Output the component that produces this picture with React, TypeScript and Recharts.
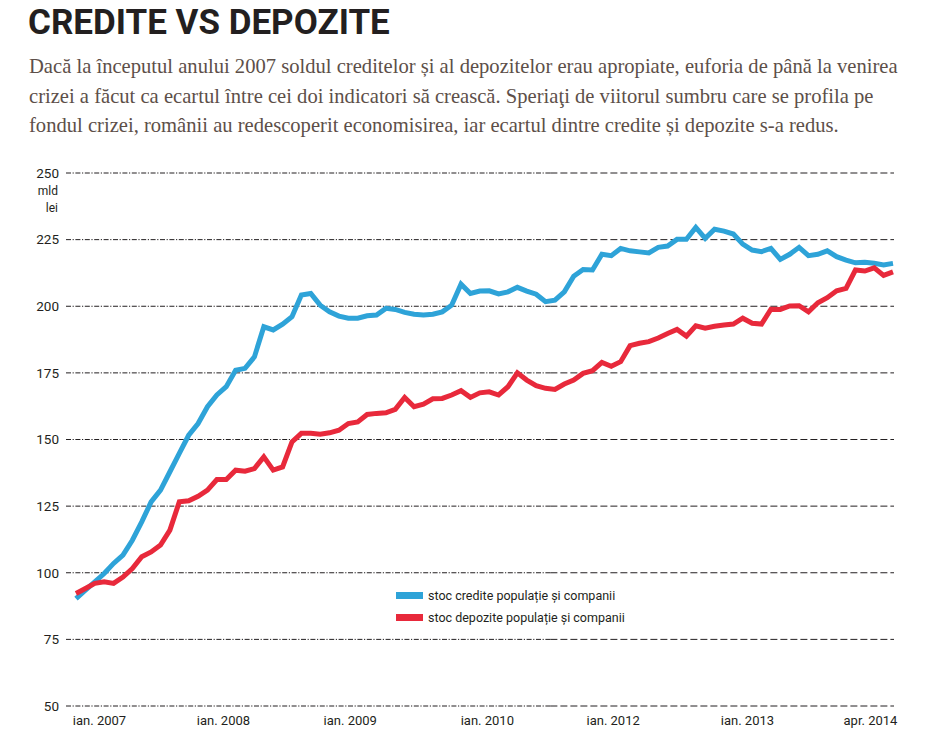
import React from 'react';
import { LineChart, Line, XAxis, YAxis, CartesianGrid, Legend } from 'recharts';

const credite: number[] = [
  90.3, 93.5, 96.6, 99.7, 103.5, 106.6, 112.2, 119.1, 126.6, 131.0,
  137.9, 144.8, 151.6, 156.0, 162.3, 166.7, 169.8, 176.0, 176.7, 181.0,
  192.3, 191.1, 193.3, 196.1, 204.2, 204.8, 200.4, 197.9, 196.3, 195.5,
  195.5, 196.4, 196.7, 199.2, 198.8, 197.7, 197.0, 196.7, 197.0, 197.9,
  200.4, 208.3, 204.8, 205.7, 205.8, 204.6, 205.4, 207.1, 205.7, 204.5,
  201.7, 202.3, 205.4, 211.3, 213.8, 213.6, 219.5, 219.0, 221.7, 220.8,
  220.4, 220.0, 222.1, 222.6, 225.1, 225.1, 229.6, 225.5, 228.9, 228.2,
  227.1, 223.3, 221.1, 220.5, 221.7, 217.6, 219.5, 222.1, 219.0, 219.5,
  220.8, 218.6, 217.3, 216.3, 216.5, 216.1, 215.5, 216.1,
];

const depozite: number[] = [
  92.2, 94.1, 96.0, 96.6, 96.0, 98.4, 101.6, 106.0, 107.8, 110.4,
  116.0, 126.6, 127.0, 128.7, 131.0, 135.0, 135.0, 138.5, 138.1, 139.1,
  143.5, 138.5, 139.7, 149.1, 152.3, 152.3, 152.0, 152.5, 153.5, 156.0,
  156.6, 159.4, 159.8, 160.0, 161.3, 165.8, 162.3, 163.3, 165.3, 165.4,
  166.7, 168.3, 165.8, 167.5, 167.9, 166.7, 169.8, 175.0, 172.3, 170.2,
  169.2, 168.8, 170.8, 172.3, 174.8, 175.8, 178.9, 177.5, 179.2, 185.2,
  186.1, 186.7, 188.1, 189.8, 191.3, 188.8, 192.7, 191.8, 192.5, 193.0,
  193.3, 195.5, 193.6, 193.3, 198.9, 198.8, 200.1, 200.2, 197.9, 201.3,
  203.2, 205.8, 206.7, 213.6, 213.2, 214.4, 211.6, 212.9,
];

const xTickIdx: number[] = [2.5, 15.7, 29.2, 43.8, 57.2, 71.5, 84.6];
const xTickLabels: string[] = ['ian. 2007', 'ian. 2008', 'ian. 2009', 'ian. 2010', 'ian. 2012', 'ian. 2013', 'apr. 2014'];
const yTicks: number[] = [50, 75, 100, 125, 150, 175, 200, 225, 250];

const seriesNames = ['stoc credite populație și companii', 'stoc depozite populație și companii'];

const title = 'CREDITE VS DEPOZITE';
const subtitleLines = [
  'Dacă la începutul anului 2007 soldul creditelor și al depozitelor erau apropiate, euforia de până la venirea',
  'crizei a făcut ca ecartul între cei doi indicatori să crească. Speriaţi de viitorul sumbru care se profila pe',
  'fondul crizei, românii au redescoperit economisirea, iar ecartul dintre credite și depozite s-a redus.',
];

const data = credite.map((v, i) => ({ i, credite: v, depozite: depozite[i] }));

const BLUE = '#2ea3d8';
const RED = '#e8293b';
const INK = '#231f20';

const renderGridLine = (p: any) => {
  const split = p.x1 + (p.x2 - p.x1) * 0.585;
  return (
    <g key={`g-${p.index}-${p.y1}`}>
      <line x1={p.x1} y1={p.y1} x2={split} y2={p.y2} stroke={INK} strokeWidth={1} strokeDasharray="5 1.6 1.2 1.6" />
      <line x1={split} y1={p.y1} x2={p.x2} y2={p.y2} stroke={INK} strokeWidth={1} strokeDasharray="7 3" />
    </g>
  );
};

const renderLegend = (props: any) => {
  const { payload } = props;
  return (
    <div style={{ fontFamily: 'Roboto, sans-serif', fontSize: 12.5, color: INK }}>
      {payload.map((e: any) => (
        <div key={e.value} style={{ display: 'flex', alignItems: 'center', height: 22 }}>
          <span style={{ display: 'inline-block', width: 27, height: 7, background: e.color, marginRight: 5 }} />
          <span>{e.value}</span>
        </div>
      ))}
    </div>
  );
};

export default function App() {
  return (
    <div style={{ position: 'relative', width: 932, height: 742, margin: -8, background: '#fff', overflow: 'hidden' }}>
      <div
        style={{
          position: 'absolute', left: 28, top: 2, fontFamily: 'Roboto, sans-serif', fontWeight: 700,
          fontSize: 35, color: INK, whiteSpace: 'nowrap', letterSpacing: 0,
        }}
      >
        {title}
      </div>
      {subtitleLines.map((t, k) => (
        <div
          key={k}
          style={{
            position: 'absolute', left: 29, top: 52 + k * 29.5, fontFamily: '"Liberation Serif", serif',
            fontSize: 20.6, color: '#5d4f49', whiteSpace: 'nowrap', lineHeight: '28px',
          }}
        >
          {t}
        </div>
      ))}
      <div style={{ position: 'absolute', right: 932 - 58, top: 183, fontFamily: 'Roboto, sans-serif', fontSize: 12, color: INK, textAlign: 'right', lineHeight: '17px' }}>
        mld<br />lei
      </div>
      <div style={{ position: 'absolute', left: 0, top: 150 }}>
        <LineChart width={932} height={592} data={data} margin={{ top: 23, right: 38, left: 0, bottom: 0 }}>
          <CartesianGrid vertical={false} horizontal={renderGridLine} />
          <XAxis
            dataKey="i"
            type="number"
            domain={[0, 87]}
            ticks={xTickIdx}
            interval={0}
            tickFormatter={(v: number) => xTickLabels[xTickIdx.indexOf(v)] ?? ''}
            padding={{ left: 10, right: 1 }}
            axisLine={false}
            tickLine={false}
            tickSize={0}
            tickMargin={10}
            height={36}
            tick={{ fill: INK, fontSize: 13, fontFamily: 'Roboto, sans-serif' }}
          />
          <YAxis
            domain={[50, 250]}
            ticks={yTicks}
            interval={0}
            width={66}
            axisLine={false}
            tickLine={false}
            tickSize={0}
            tickMargin={7}
            tick={{ fill: INK, fontSize: 13.5, fontFamily: 'Roboto, sans-serif' }}
          />
          <Legend
            layout="vertical"
            align="center"
            verticalAlign="middle"
            content={renderLegend}
            wrapperStyle={{ left: 396, top: 434, width: 320 }}
          />
          <Line dataKey="credite" name={seriesNames[0]} stroke={BLUE} strokeWidth={5} dot={false} isAnimationActive={false} />
          <Line dataKey="depozite" name={seriesNames[1]} stroke={RED} strokeWidth={5} dot={false} isAnimationActive={false} />
        </LineChart>
      </div>
    </div>
  );
}
